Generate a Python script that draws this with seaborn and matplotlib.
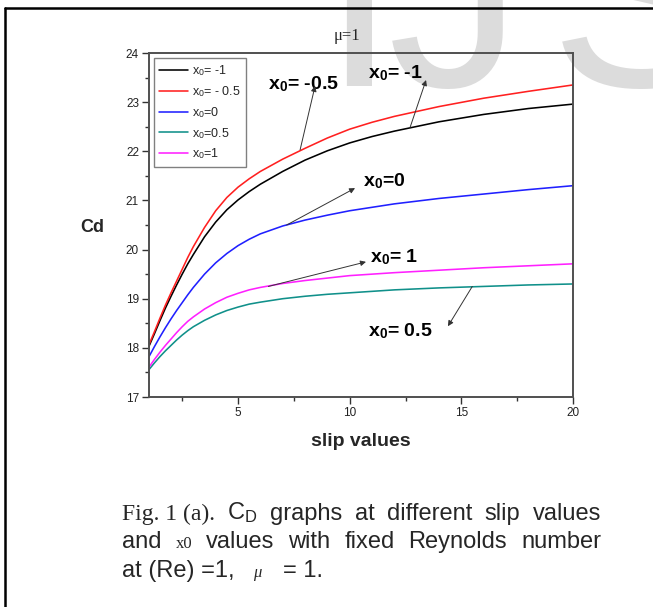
import matplotlib
matplotlib.use("Agg")
import matplotlib.pyplot as plt
from matplotlib.lines import Line2D
import pandas as pd
import seaborn as sns

# ---- data -------------------------------------------------------------
slip = [1, 1.25, 1.5, 1.75, 2, 2.25, 2.5, 2.75, 3, 3.5, 4, 4.5, 5, 5.5, 6,
        7, 8, 9, 10, 11, 12, 14, 16, 18, 20]

cd_x0_m1 = [18.02, 18.28, 18.55, 18.81, 19.05, 19.28, 19.50, 19.71, 19.90,
            20.26, 20.56, 20.81, 21.01, 21.18, 21.33, 21.59, 21.82, 22.01,
            22.17, 22.30, 22.41, 22.60, 22.75, 22.87, 22.96]
cd_x0_m05 = [18.05, 18.32, 18.60, 18.87, 19.12, 19.36, 19.60, 19.84, 20.06,
             20.45, 20.79, 21.06, 21.27, 21.44, 21.59, 21.84, 22.06, 22.27,
             22.45, 22.59, 22.71, 22.91, 23.08, 23.22, 23.35]
cd_x0_0 = [17.81, 18.02, 18.22, 18.41, 18.59, 18.76, 18.92, 19.08, 19.23,
           19.50, 19.73, 19.92, 20.08, 20.21, 20.32, 20.48, 20.60, 20.70,
           20.79, 20.86, 20.93, 21.04, 21.13, 21.22, 21.30]
cd_x0_05 = [17.55, 17.69, 17.82, 17.94, 18.05, 18.16, 18.26, 18.35, 18.43,
            18.56, 18.67, 18.76, 18.83, 18.89, 18.93, 19.00, 19.05, 19.09,
            19.12, 19.15, 19.18, 19.22, 19.25, 19.28, 19.30]
cd_x0_1 = [17.60, 17.76, 17.91, 18.05, 18.18, 18.31, 18.43, 18.54, 18.63,
           18.79, 18.92, 19.03, 19.11, 19.18, 19.23, 19.31, 19.37, 19.42,
           19.47, 19.50, 19.53, 19.58, 19.63, 19.67, 19.71]

legend_labels = [r"x$_\mathsf{0}$= -1", r"x$_\mathsf{0}$= - 0.5",
                 r"x$_\mathsf{0}$=0", r"x$_\mathsf{0}$=0.5", r"x$_\mathsf{0}$=1"]
line_colors = ["#000000", "#ff2020", "#2020ff", "#10908a", "#ff20ff"]

x_major = [5, 10, 15, 20]
x_minor = [2.5, 7.5, 12.5, 17.5]
y_major = [17, 18, 19, 20, 21, 22, 23, 24]
y_minor = [17.5, 18.5, 19.5, 20.5, 21.5, 22.5, 23.5]

# callouts: label, text anchor (x, y), arrow tail on curve, arrow head
callout_labels = [r"x$_\mathbf{0}$= -0.5", r"x$_\mathbf{0}$= -1",
                  r"x$_\mathbf{0}$=0", r"x$_\mathbf{0}$= 1", r"x$_\mathbf{0}$= 0.5"]
callout_text_xy = [(6.34, 23.27), (10.81, 23.49), (10.6, 21.28),
                   (10.91, 19.75), (10.81, 18.23)]
callout_tail_xy = [(7.78, 22.03), (12.70, 22.48), (7.18, 20.50),
                   (6.36, 19.25), (15.49, 19.25)]
callout_head_xy = [(8.45, 23.33), (13.42, 23.45), (10.24, 21.25),
                   (10.73, 19.75), (14.40, 18.44)]

# ---- style ------------------------------------------------------------
W, H, DPI = 653, 607, 100
sns.set_style("white")
plt.rcParams["font.family"] = ["Liberation Sans", "DejaVu Sans"]
plt.rcParams["mathtext.fontset"] = "custom"
plt.rcParams["mathtext.rm"] = "Liberation Serif"
plt.rcParams["mathtext.it"] = "Liberation Serif:italic"
plt.rcParams["mathtext.bf"] = "Liberation Sans:bold"
plt.rcParams["mathtext.sf"] = "Liberation Sans"
SERIF = ["Liberation Serif", "DejaVu Serif"]
SANS = ["Liberation Sans", "DejaVu Sans"]

fig = plt.figure(figsize=(W / DPI, H / DPI), dpi=DPI)
fig.patch.set_facecolor("white")


def fx(px):
    return px / W


def fy(py):
    return 1 - py / H


# journal watermark behind everything
for ch, cx in zip("IJS", [359, 455, 640]):
    fig.text(fx(cx), fy(86), ch, fontsize=194, color="#dcdcdc",
             ha="center", va="baseline", zorder=-5)

# page frame (top and left edges)
fig.add_artist(Line2D([fx(5), 1.0], [fy(8), fy(8)], color="black", lw=1.8))
fig.add_artist(Line2D([fx(5), fx(5)], [fy(8), 0.0], color="black", lw=1.8))

# ---- plot -------------------------------------------------------------
ax = fig.add_axes([fx(148.7), fy(397), (573 - 148.7) / W, (397 - 53) / H])
ax.set_facecolor("none")

series = [cd_x0_m1, cd_x0_m05, cd_x0_0, cd_x0_05, cd_x0_1]
df = pd.concat(
    [pd.DataFrame({"slip": slip, "Cd": vals, "x0": lab})
     for vals, lab in zip(series, legend_labels)],
    ignore_index=True,
)
sns.lineplot(data=df, x="slip", y="Cd", hue="x0", hue_order=legend_labels,
             palette=dict(zip(legend_labels, line_colors)), linewidth=1.15,
             estimator=None, ax=ax)

ax.set_xlim(1, 20)
ax.set_ylim(17, 24)
ax.set_xticks(x_major)
ax.set_xticks(x_minor, minor=True)
ax.set_yticks(y_major)
ax.set_yticks(y_minor, minor=True)
ax.tick_params(which="both", direction="out", top=False, right=False,
               bottom=True, left=True, color="#333333", width=1.0)
ax.tick_params(which="major", length=5, labelsize=8.5, pad=2,
               labelcolor="#222222")
ax.tick_params(which="minor", length=3)
for s in ax.spines.values():
    s.set_color("#505050")
    s.set_linewidth(1.4)
ax.set_xlabel("")
ax.set_ylabel("")

handles, labels = ax.get_legend_handles_labels()
leg = ax.legend(handles, labels, loc="upper left",
                bbox_to_anchor=(0.0125, 0.985), borderaxespad=0,
                fontsize=9, handlelength=2.3, handletextpad=0.3,
                labelspacing=0.48, borderpad=0.42, fancybox=False,
                edgecolor="#808080", framealpha=1)
leg.get_frame().set_linewidth(1.0)

for lab, txy, tail, head in zip(callout_labels, callout_text_xy,
                                callout_tail_xy, callout_head_xy):
    ax.text(txy[0], txy[1], lab, fontsize=14, fontweight="bold",
            ha="left", va="baseline", color="black")
    ax.annotate("", xy=head, xytext=tail,
                arrowprops=dict(arrowstyle="-|>", lw=0.7, color="#333333",
                                mutation_scale=8, shrinkA=0, shrinkB=0))

# titles and axis names
fig.text(fx(347), fy(40), "μ=1", ha="center", va="baseline",
         fontsize=12, family=SERIF)
fig.text(fx(361), fy(441), "slip values", ha="center", va="center",
         fontsize=14, fontweight="bold")
fig.text(fx(92), fy(228), "Cd", ha="center", va="center",
         fontsize=13, fontweight="bold")

# ---- caption ------------------------------------------------------------
cap_size = 17.0
renderer = fig.canvas.get_renderer()


def place_words(words, y_px, x0=122, x1=601):
    """Lay out (text, size, family) pieces justified between x0 and x1."""
    texts = [fig.text(0, 0, w, fontsize=size, family=fam, ha="left",
                      va="baseline") for w, size, fam in words]
    widths = [t.get_window_extent(renderer).width for t in texts]
    gap = (x1 - x0 - sum(widths)) / (len(texts) - 1)
    x = x0
    for t, w in zip(texts, widths):
        t.set_position((fx(x), fy(y_px)))
        x += w + gap


place_words([("Fig. 1 (a).", cap_size, SERIF), (r"C$_\mathsf{D}$", cap_size, SANS),
             ("graphs", cap_size, SANS), ("at", cap_size, SANS),
             ("different", cap_size, SANS), ("slip", cap_size, SANS),
             ("values", cap_size, SANS)], 520)
place_words([("and", cap_size, SANS), ("x0", 12, SERIF),
             ("values", cap_size, SANS), ("with", cap_size, SANS),
             ("fixed", cap_size, SANS), ("Reynolds", cap_size, SANS),
             ("number", cap_size, SANS)], 548)
fig.text(fx(122), fy(577), "at (Re) =1,", fontsize=cap_size, ha="left",
         va="baseline")
fig.text(fx(253), fy(577), "μ", fontsize=12, ha="left", va="baseline",
         family=SERIF, style="italic")
fig.text(fx(283), fy(577), "= 1.", fontsize=cap_size, ha="left",
         va="baseline")

fig.savefig("out.png", dpi=DPI)
